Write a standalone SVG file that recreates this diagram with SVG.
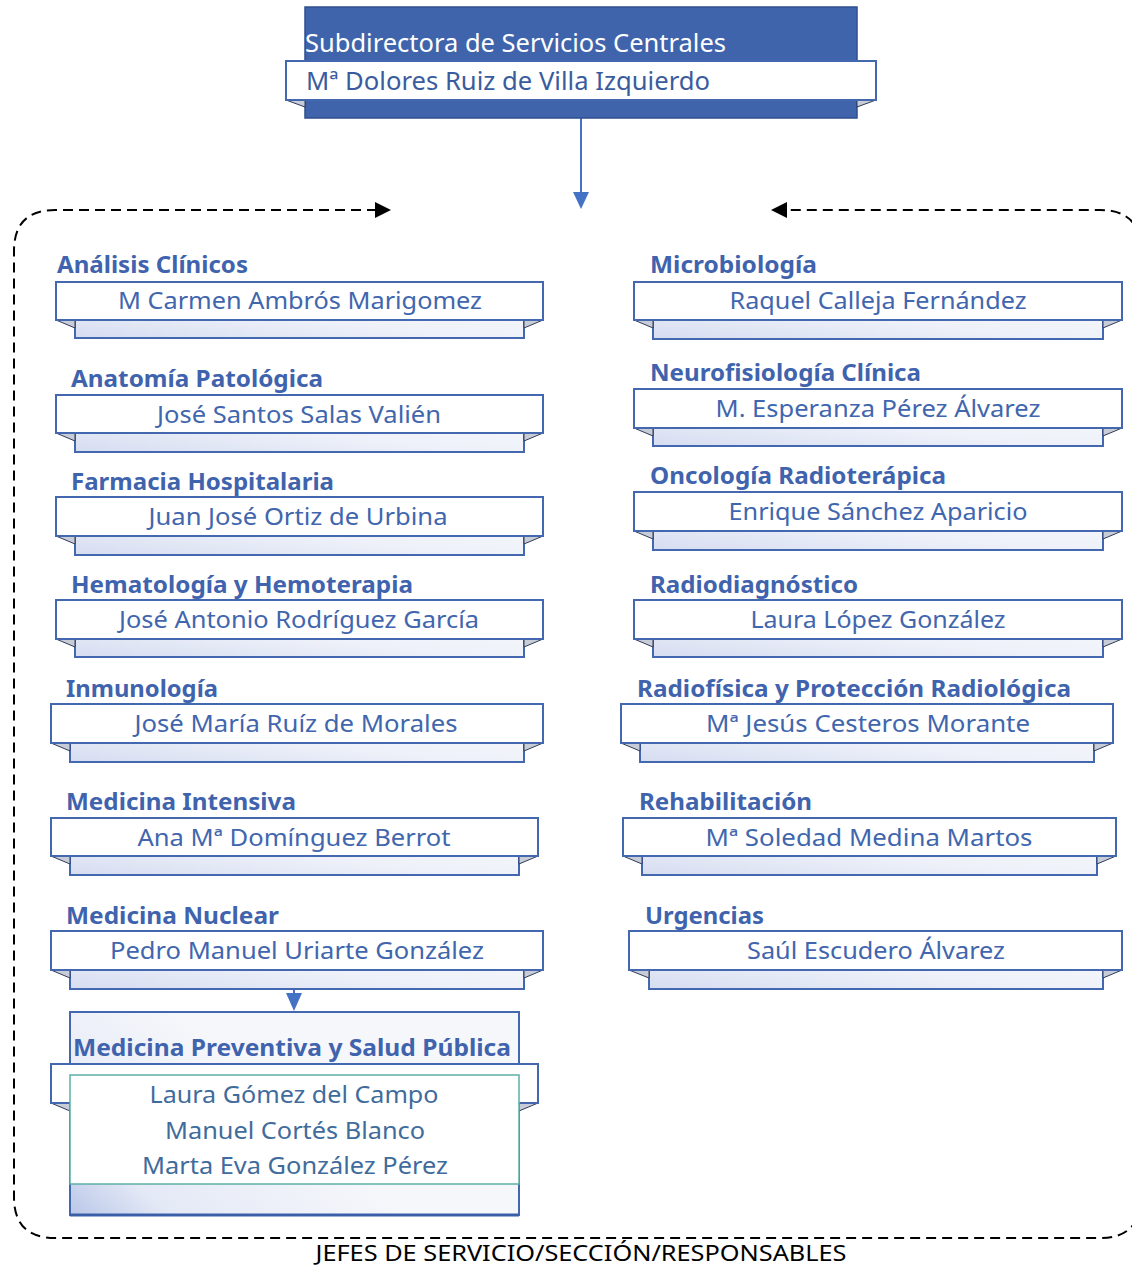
<svg xmlns="http://www.w3.org/2000/svg" width="1132" height="1267" viewBox="0 0 1132 1267">
<defs>
<linearGradient id="backg" x1="0" y1="1" x2="1" y2="0">
<stop offset="0" stop-color="#D6DDF1"/>
<stop offset="0.45" stop-color="#EEF1F9"/>
<stop offset="1" stop-color="#F8F9FC"/>
</linearGradient>
<linearGradient id="backg2" x1="0" y1="1" x2="0.6" y2="0.7">
<stop offset="0" stop-color="#B9C7E8"/>
<stop offset="0.3" stop-color="#E4E9F6"/>
<stop offset="1" stop-color="#F6F7FB"/>
</linearGradient>
</defs>
<style>
.back{fill:url(#backg);stroke:#4468B0;stroke-width:2}
.rib{fill:#fff;stroke:#4468B0;stroke-width:2}
.fold{fill:#C8CCD6;stroke:#2E3B5C;stroke-width:1}
.title{font-family:"Noto Sans","Open Sans",sans-serif;font-weight:bold;font-size:23px;fill:#3F63AD}
.name{font-family:"Noto Sans","Open Sans",sans-serif;font-size:24px;fill:#4166AE;text-anchor:middle}
.pname{font-family:"Noto Sans","Open Sans",sans-serif;font-size:24px;fill:#3F6C9C;text-anchor:middle}
.frame{fill:none;stroke:#000;stroke-width:2;stroke-dasharray:10,6}
.conn{stroke:#4472C4;stroke-width:2;fill:none}
.ah{fill:#4472C4}
</style>

<g id="connectors">
<path class="frame" d="M 377 210 H 55 Q 14 210 14 251 V 1197 Q 14 1238 55 1238 H 1100 Q 1141 1238 1141 1197 V 251 Q 1141 210 1100 210 H 785"/>
<polygon points="391,210 375,202 375,218" fill="#000"/>
<polygon points="771,210 787,202 787,218" fill="#000"/>
<line class="conn" x1="581" y1="118" x2="581" y2="194"/>
<polygon class="ah" points="573,192 589,192 581,209"/>
<line class="conn" x1="294" y1="989" x2="294" y2="996"/>
<polygon class="ah" points="286,993 302,993 294,1011"/>
</g>

<g id="top">
<rect x="305" y="7" width="552" height="111" fill="#3F64AC" stroke="#2F4F8F" stroke-width="1.5"/>
<text x="305" y="52" font-family="Noto Sans, Open Sans, sans-serif" font-size="25" fill="#fff" textLength="421" lengthAdjust="spacingAndGlyphs">Subdirectora de Servicios Centrales</text>
<polygon class="fold" points="286,100 305,100 305,107"/>
<polygon class="fold" points="876,100 857,100 857,107"/>
<rect x="286" y="61" width="590" height="39" fill="#fff" stroke="#4468B0" stroke-width="2"/>
<text x="306" y="90" font-family="Noto Sans, Open Sans, sans-serif" font-size="25" fill="#3A5C9E" textLength="404" lengthAdjust="spacingAndGlyphs">Mª Dolores Ruiz de Villa Izquierdo</text>
</g>

<g id="analisis">
<rect class="back" x="75" y="290" width="449" height="48"/>
<polygon class="fold" points="56,320 75,320 75,328"/>
<polygon class="fold" points="543,320 524,320 524,328"/>
<rect class="rib" x="56" y="282" width="487" height="38"/>
<text class="title" x="57" y="273" textLength="191" lengthAdjust="spacingAndGlyphs">Análisis Clínicos</text>
<text class="name" x="300" y="309" textLength="364" lengthAdjust="spacingAndGlyphs">M Carmen Ambrós Marigomez</text>
</g>

<g id="anatomia">
<rect class="back" x="75" y="403" width="449" height="49"/>
<polygon class="fold" points="56,433 75,433 75,441"/>
<polygon class="fold" points="543,433 524,433 524,441"/>
<rect class="rib" x="56" y="395" width="487" height="38"/>
<text class="title" x="71" y="387" textLength="252" lengthAdjust="spacingAndGlyphs">Anatomía Patológica</text>
<text class="name" x="299" y="423" textLength="284" lengthAdjust="spacingAndGlyphs">José Santos Salas Valién</text>
</g>

<g id="farmacia">
<rect class="back" x="75" y="505" width="449" height="50"/>
<polygon class="fold" points="56,536 75,536 75,544"/>
<polygon class="fold" points="543,536 524,536 524,544"/>
<rect class="rib" x="56" y="497" width="487" height="39"/>
<text class="title" x="71" y="490" textLength="263" lengthAdjust="spacingAndGlyphs">Farmacia Hospitalaria</text>
<text class="name" x="298" y="525" textLength="299" lengthAdjust="spacingAndGlyphs">Juan José Ortiz de Urbina</text>
</g>

<g id="hematologia">
<rect class="back" x="75" y="608" width="449" height="49"/>
<polygon class="fold" points="56,639 75,639 75,647"/>
<polygon class="fold" points="543,639 524,639 524,647"/>
<rect class="rib" x="56" y="600" width="487" height="39"/>
<text class="title" x="71" y="593" textLength="342" lengthAdjust="spacingAndGlyphs">Hematología y Hemoterapia</text>
<text class="name" x="299" y="628" textLength="360" lengthAdjust="spacingAndGlyphs">José Antonio Rodríguez García</text>
</g>

<g id="inmunologia">
<rect class="back" x="70" y="712" width="454" height="50"/>
<polygon class="fold" points="51,743 70,743 70,751"/>
<polygon class="fold" points="543,743 524,743 524,751"/>
<rect class="rib" x="51" y="704" width="492" height="39"/>
<text class="title" x="66" y="697" textLength="152" lengthAdjust="spacingAndGlyphs">Inmunología</text>
<text class="name" x="296" y="732" textLength="323" lengthAdjust="spacingAndGlyphs">José María Ruíz de Morales</text>
</g>

<g id="intensiva">
<rect class="back" x="70" y="826" width="449" height="49"/>
<polygon class="fold" points="51,856 70,856 70,864"/>
<polygon class="fold" points="538,856 519,856 519,864"/>
<rect class="rib" x="51" y="818" width="487" height="38"/>
<text class="title" x="66" y="810" textLength="230" lengthAdjust="spacingAndGlyphs">Medicina Intensiva</text>
<text class="name" x="294" y="846" textLength="313" lengthAdjust="spacingAndGlyphs">Ana Mª Domínguez Berrot</text>
</g>

<g id="nuclear">
<rect class="back" x="70" y="939" width="454" height="50"/>
<polygon class="fold" points="51,970 70,970 70,978"/>
<polygon class="fold" points="543,970 524,970 524,978"/>
<rect class="rib" x="51" y="931" width="492" height="39"/>
<text class="title" x="66" y="924" textLength="213" lengthAdjust="spacingAndGlyphs">Medicina Nuclear</text>
<text class="name" x="297" y="959" textLength="374" lengthAdjust="spacingAndGlyphs">Pedro Manuel Uriarte González</text>
</g>

<g id="preventiva">
<rect x="70" y="1012" width="449" height="203" fill="url(#backg2)" stroke="#4468B0" stroke-width="2"/>
<line x1="70" y1="1215" x2="519" y2="1215" stroke="#3A5FA8" stroke-width="3"/>
<text class="title" x="292" y="1056" text-anchor="middle" textLength="438" lengthAdjust="spacingAndGlyphs">Medicina Preventiva y Salud Pública</text>
<polygon class="fold" points="51,1103 70,1103 70,1111"/>
<polygon class="fold" points="538,1103 519,1103 519,1111"/>
<rect class="rib" x="51" y="1064" width="487" height="39"/>
<rect x="70" y="1075" width="449" height="109" fill="#fff" stroke="#5BB0A6" stroke-width="1.5"/>
<text class="pname" x="294" y="1103" textLength="289" lengthAdjust="spacingAndGlyphs">Laura Gómez del Campo</text>
<text class="pname" x="295" y="1139" textLength="260" lengthAdjust="spacingAndGlyphs">Manuel Cortés Blanco</text>
<text class="pname" x="295" y="1174" textLength="306" lengthAdjust="spacingAndGlyphs">Marta Eva González Pérez</text>
</g>

<g id="microbiologia">
<rect class="back" x="653" y="290" width="450" height="49"/>
<polygon class="fold" points="634,320 653,320 653,328"/>
<polygon class="fold" points="1122,320 1103,320 1103,328"/>
<rect class="rib" x="634" y="282" width="488" height="38"/>
<text class="title" x="650" y="273" textLength="167" lengthAdjust="spacingAndGlyphs">Microbiología</text>
<text class="name" x="878" y="309" textLength="297" lengthAdjust="spacingAndGlyphs">Raquel Calleja Fernández</text>
</g>

<g id="neurofisiologia">
<rect class="back" x="653" y="397" width="450" height="49"/>
<polygon class="fold" points="634,428 653,428 653,436"/>
<polygon class="fold" points="1122,428 1103,428 1103,436"/>
<rect class="rib" x="634" y="389" width="488" height="39"/>
<text class="title" x="650" y="381" textLength="271" lengthAdjust="spacingAndGlyphs">Neurofisiología Clínica</text>
<text class="name" x="878" y="417" textLength="325" lengthAdjust="spacingAndGlyphs">M. Esperanza Pérez Álvarez</text>
</g>

<g id="oncologia">
<rect class="back" x="653" y="500" width="450" height="50"/>
<polygon class="fold" points="634,531 653,531 653,539"/>
<polygon class="fold" points="1122,531 1103,531 1103,539"/>
<rect class="rib" x="634" y="492" width="488" height="39"/>
<text class="title" x="650" y="484" textLength="296" lengthAdjust="spacingAndGlyphs">Oncología Radioterápica</text>
<text class="name" x="878" y="520" textLength="299" lengthAdjust="spacingAndGlyphs">Enrique Sánchez Aparicio</text>
</g>

<g id="radiodiagnostico">
<rect class="back" x="653" y="608" width="450" height="49"/>
<polygon class="fold" points="634,639 653,639 653,647"/>
<polygon class="fold" points="1122,639 1103,639 1103,647"/>
<rect class="rib" x="634" y="600" width="488" height="39"/>
<text class="title" x="650" y="593" textLength="208" lengthAdjust="spacingAndGlyphs">Radiodiagnóstico</text>
<text class="name" x="878" y="628" textLength="255" lengthAdjust="spacingAndGlyphs">Laura López González</text>
</g>

<g id="radiofisica">
<rect class="back" x="640" y="712" width="454" height="50"/>
<polygon class="fold" points="621,743 640,743 640,751"/>
<polygon class="fold" points="1113,743 1094,743 1094,751"/>
<rect class="rib" x="621" y="704" width="492" height="39"/>
<text class="title" x="637" y="697" textLength="434" lengthAdjust="spacingAndGlyphs">Radiofísica y Protección Radiológica</text>
<text class="name" x="868" y="732" textLength="324" lengthAdjust="spacingAndGlyphs">Mª Jesús Cesteros Morante</text>
</g>

<g id="rehabilitacion">
<rect class="back" x="642" y="826" width="455" height="49"/>
<polygon class="fold" points="623,856 642,856 642,864"/>
<polygon class="fold" points="1116,856 1097,856 1097,864"/>
<rect class="rib" x="623" y="818" width="493" height="38"/>
<text class="title" x="639" y="810" textLength="173" lengthAdjust="spacingAndGlyphs">Rehabilitación</text>
<text class="name" x="869" y="846" textLength="327" lengthAdjust="spacingAndGlyphs">Mª Soledad Medina Martos</text>
</g>

<g id="urgencias">
<rect class="back" x="649" y="939" width="454" height="50"/>
<polygon class="fold" points="629,970 649,970 649,978"/>
<polygon class="fold" points="1122,970 1103,970 1103,978"/>
<rect class="rib" x="629" y="931" width="493" height="39"/>
<text class="title" x="645" y="924" textLength="119" lengthAdjust="spacingAndGlyphs">Urgencias</text>
<text class="name" x="876" y="959" textLength="258" lengthAdjust="spacingAndGlyphs">Saúl Escudero Álvarez</text>
</g>

<text x="581" y="1261" text-anchor="middle" font-family="Noto Sans, Open Sans, sans-serif" font-size="21" fill="#000" textLength="531" lengthAdjust="spacingAndGlyphs">JEFES DE SERVICIO/SECCIÓN/RESPONSABLES</text>
</svg>
